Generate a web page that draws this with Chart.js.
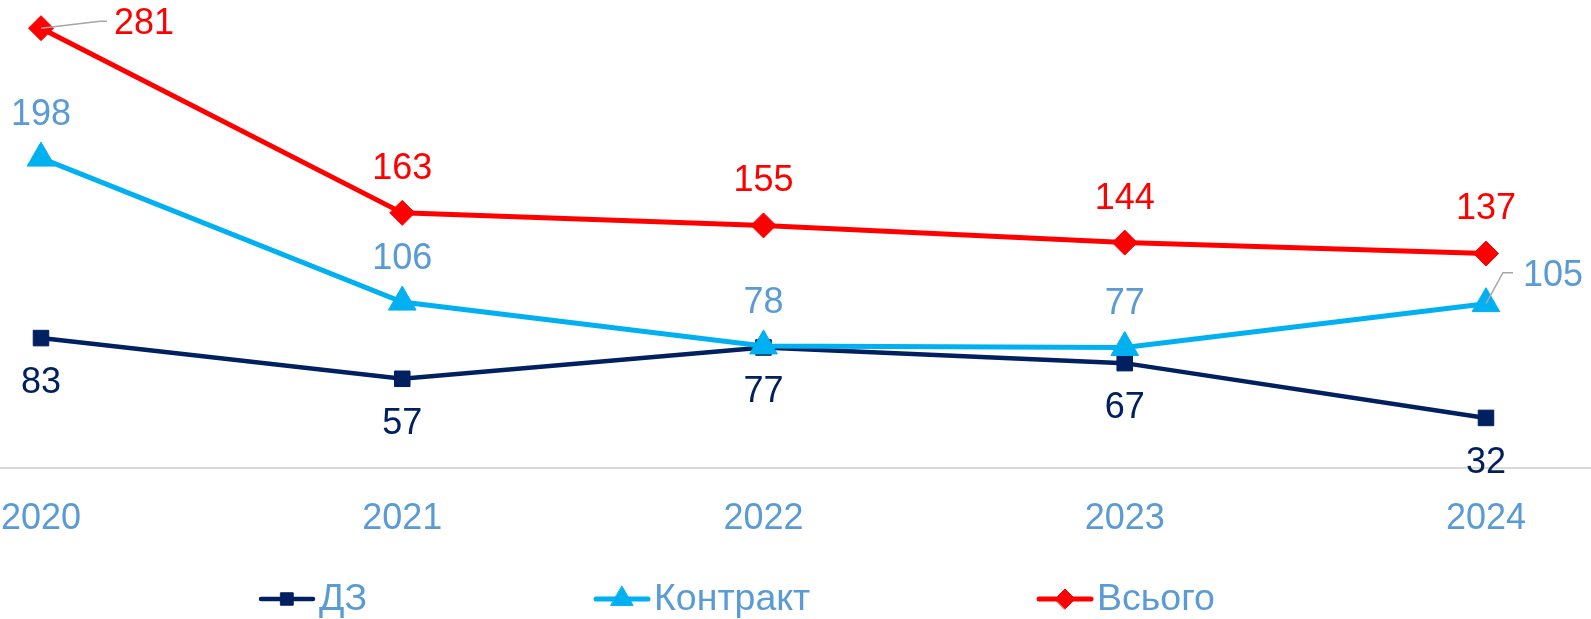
<!DOCTYPE html>
<html lang="uk">
<head>
  <meta charset="UTF-8" />
  <title>ДЗ / Контракт / Всього</title>
  <script src="https://cdn.jsdelivr.net/npm/chart.js"></script>
  <style>
    html, body { margin: 0; padding: 0; background: #fff; }
    #wrap { position: relative; width: 1591px; height: 619px; }
  </style>
</head>
<body>
  <div id="wrap"><canvas id="chart"></canvas></div>

  <script>
    const years = ["2020", "2021", "2022", "2023", "2024"];
    const dz = [83, 57, 77, 67, 32];
    const kontrakt = [198, 106, 78, 77, 105];
    const vsogo = [281, 163, 155, 144, 137];

    const FONT = "'Liberation Sans', Arial, sans-serif";
    const FONT_SIZE = 36;
    const TEXT_BLUE = "#5B9BD5";

    const toPoints = arr => arr.map((v, i) => ({ x: i, y: v }));

    // value labels: dy > 0 puts the label under the point
    const labelStyle = [
      { color: "#002060", dy: 45 },
      { color: TEXT_BLUE, dy: -43 },
      { color: "#FF0000", dy: -44 }
    ];
    // two labels sit beside their point with a grey leader line (offsets from the point)
    const sideLabels = {
      "2-0": { dx: 103, dy: -4, leader: [[59, -7], [66, -7]] },
      "1-4": { dx: 67, dy: -28, leader: [[17, -31], [27, -31]] }
    };

    const valueLabels = {
      id: "valueLabels",
      afterDatasetsDraw(chart) {
        const ctx = chart.ctx;
        ctx.save();
        ctx.font = FONT_SIZE + "px " + FONT;
        ctx.textAlign = "center";
        ctx.textBaseline = "middle";
        chart.data.datasets.forEach((ds, di) => {
          const meta = chart.getDatasetMeta(di);
          meta.data.forEach((pt, i) => {
            const side = sideLabels[di + "-" + i];
            const st = labelStyle[di];
            let x = pt.x, y = pt.y + st.dy;
            if (side) {
              ctx.beginPath();
              ctx.strokeStyle = "#A6A6A6";
              ctx.lineWidth = 1.5;
              ctx.moveTo(pt.x, pt.y);
              side.leader.forEach(p => ctx.lineTo(pt.x + p[0], pt.y + p[1]));
              ctx.stroke();
              x = pt.x + side.dx;
              y = pt.y + side.dy;
            }
            ctx.fillStyle = st.color;
            ctx.fillText(String(ds.data[i].y), x, y);
          });
        });
        ctx.restore();
      }
    };

    // Excel-like legend: short line with the marker in the middle
    const legendStyle = { y: 599, starts: [261, 596, 1039], lineLen: 52, gap: 6, font: 37.5 };
    const lineLegend = {
      id: "lineLegend",
      afterDraw(chart) {
        const ctx = chart.ctx;
        ctx.save();
        chart.data.datasets.forEach((ds, di) => {
          const x0 = legendStyle.starts[di];
          const y = legendStyle.y;
          ctx.beginPath();
          ctx.strokeStyle = ds.borderColor;
          ctx.lineWidth = ds.borderWidth;
          ctx.lineCap = "round";
          ctx.moveTo(x0, y);
          ctx.lineTo(x0 + legendStyle.lineLen, y);
          ctx.stroke();
          ctx.fillStyle = ds.backgroundColor;
          ctx.strokeStyle = ds.borderColor;
          ctx.lineWidth = 1;
          Chart.helpers.drawPoint(ctx, {
            pointStyle: ds.pointStyle,
            radius: ds.pointRadius * 0.8,
            borderWidth: 1,
            rotation: 0
          }, x0 + legendStyle.lineLen / 2, y);
          ctx.font = legendStyle.font + "px " + FONT;
          ctx.fillStyle = TEXT_BLUE;
          ctx.textAlign = "left";
          ctx.textBaseline = "middle";
          ctx.fillText(ds.label, x0 + legendStyle.lineLen + legendStyle.gap, y + 1);
        });
        ctx.restore();
      }
    };

    new Chart(document.getElementById("chart"), {
      type: "line",
      data: {
        datasets: [
          {
            label: "ДЗ",
            data: toPoints(dz),
            borderColor: "#002060",
            backgroundColor: "#002060",
            borderWidth: 4.5,
            pointStyle: "rect",
            pointRadius: 11,
            pointBorderWidth: 1,
            order: 3
          },
          {
            label: "Контракт",
            data: toPoints(kontrakt),
            borderColor: "#00B0F0",
            backgroundColor: "#00B0F0",
            borderWidth: 5,
            pointStyle: "triangle",
            pointRadius: 16,
            pointBorderWidth: 1,
            order: 2
          },
          {
            label: "Всього",
            data: toPoints(vsogo),
            borderColor: "#FF0000",
            backgroundColor: "#FF0000",
            borderWidth: 5,
            pointStyle: "rectRot",
            pointRadius: 12.5,
            pointBorderWidth: 1,
            order: 1
          }
        ]
      },
      options: {
        responsive: true,
        maintainAspectRatio: false,
        animation: false,
        clip: false,
        layout: { padding: 0, autoPadding: false },
        plugins: {
          legend: { display: false },
          tooltip: { enabled: false }
        },
        scales: {
          x: {
            type: "linear",
            min: -0.1135,
            max: 4.2907,
            afterBuildTicks: s => { s.ticks = years.map((_, i) => ({ value: i })); },
            afterFit: s => { s.paddingLeft = 0; s.paddingRight = 0; s.height = 151; },
            grid: { display: false, drawTicks: false },
            border: { color: "#D9D9D9", width: 2 },
            ticks: {
              callback: v => years[v],
              color: TEXT_BLUE,
              font: { family: FONT, size: FONT_SIZE },
              padding: 29,
              maxRotation: 0,
              autoSkip: false
            }
          },
          y: { display: false, min: 0, max: 299 }
        }
      },
      plugins: [valueLabels, lineLegend]
    });
  </script>
</body>
</html>
